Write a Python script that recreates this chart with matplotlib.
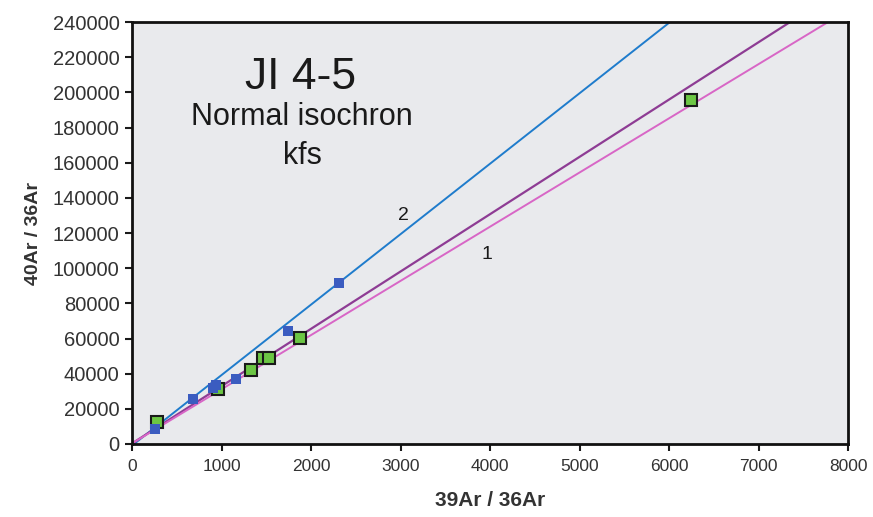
import numpy as np
import matplotlib.pyplot as plt

plt.rcParams['font.family'] = ['Liberation Sans', 'DejaVu Sans']

# step data, 39Ar/36Ar vs 40Ar/36Ar
blue_x = [261, 685, 908, 939, 1162, 1739, 2316]
blue_y = [8360, 25420, 31700, 33550, 36800, 64270, 91380]

green_x = [276, 957, 1326, 1467, 1534, 1877, 6246]
green_y = [12680, 31100, 42090, 48740, 48740, 60110, 195640]

# isochron fits: (intercept, slope)
fit_blue = (-880, 40.07)
fit_purple = (300, 32.6)
fit_pink = (300, 30.82)

xticks = np.arange(0, 8001, 1000)
yticks = np.arange(0, 240001, 20000)

fig = plt.figure(figsize=(8.73, 5.17), dpi=100)
ax = fig.add_axes([0.1512, 0.1412, 0.8202, 0.8162])
ax.set_facecolor('#e9eaed')

xl = np.array([0, 8000])
for (a, b), c, lw in [(fit_blue, '#1f7ccc', 1.4),
                      (fit_purple, '#8e3c94', 1.6),
                      (fit_pink, '#d866c6', 1.4)]:
    ax.plot(xl, a + b * xl, color=c, lw=lw, zorder=2)

ax.plot(green_x, green_y, 's', ms=8.5, mfc='#6cc644', mec='#1a1a1a', mew=1.5, zorder=3)
ax.plot(blue_x, blue_y, 's', ms=7.5, mfc='#3b5cc0', mec='#3b5cc0', mew=0, zorder=4)

ax.set_xlim(0, 8000)
ax.set_ylim(0, 240000)
ax.set_xticks(xticks)
ax.set_yticks(yticks)
ax.tick_params(direction='out', length=5, width=1.5, colors='#1a1a1a',
               labelcolor='#333333')
ax.tick_params(axis='x', labelsize=12.5, pad=6)
ax.tick_params(axis='y', labelsize=14.5, pad=4)
for s in ax.spines.values():
    s.set_linewidth(2)
    s.set_color('#111111')

ax.set_xlabel('39Ar / 36Ar', fontsize=15, fontweight='bold', color='#333333', labelpad=12)
ax.set_ylabel('40Ar / 36Ar', fontsize=14, fontweight='bold', color='#333333', labelpad=8)

ax.text(1880, 208700, 'JI 4-5', fontsize=32, ha='center', va='center', color='#1a1a1a')
ax.text(1900, 185700, 'Normal isochron', fontsize=22, ha='center', va='center', color='#1a1a1a')
ax.text(1900, 163800, 'kfs', fontsize=22, ha='center', va='center', color='#1a1a1a')

ax.text(3030, 130000, '2', fontsize=14, ha='center', va='center', color='#1a1a1a')
ax.text(3970, 108000, '1', fontsize=14, ha='center', va='center', color='#1a1a1a')

fig.savefig('out.png', dpi=100)
